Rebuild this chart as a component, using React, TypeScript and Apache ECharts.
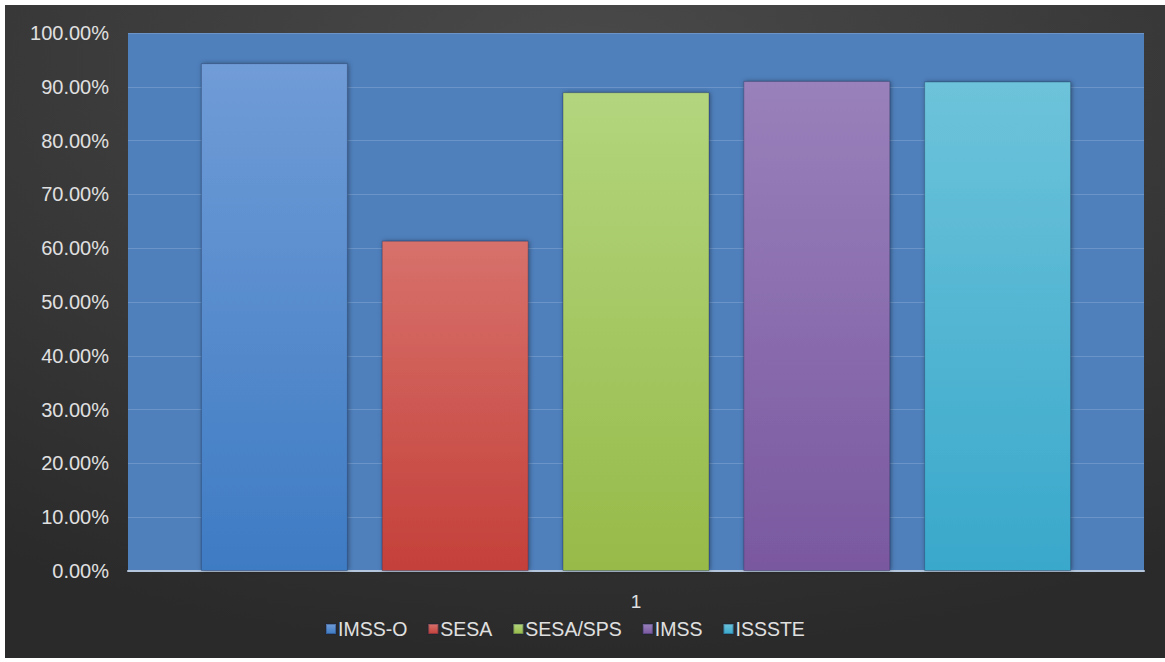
import React, { useEffect, useRef } from "react";
import * as echarts from "echarts";

const categories = ["1"];
const seriesNames = ["IMSS-O", "SESA", "SESA/SPS", "IMSS", "ISSSTE"];
const seriesValues = [94.4, 61.4, 89.0, 91.1, 91.0];
const topColors = ["#709cd7", "#d7716b", "#b3d57d", "#9981bb", "#6dc3da"];
const bottomColors = ["#3e7bc3", "#c4403a", "#97ba49", "#7a58a0", "#39a8cb"];
const yTicks = [0, 10, 20, 30, 40, 50, 60, 70, 80, 90, 100];

export default function App() {
  const ref = useRef<HTMLDivElement>(null);
  useEffect(() => {
    if (!ref.current) return;
    const chart = echarts.init(ref.current, undefined, { renderer: "svg" });
    const font = "'Liberation Sans', Arial, sans-serif";
    const series = seriesNames.map((name, i) => ({
      name,
      type: "bar" as const,
      data: [seriesValues[i]],
      barWidth: 147,
      barGap: "23%",
      itemStyle: {
        color: new echarts.graphic.LinearGradient(0, 0, 0, 1, [
          { offset: 0, color: topColors[i] },
          { offset: 1, color: bottomColors[i] },
        ]),
        borderColor: "rgba(20,30,60,0.3)",
        borderWidth: 1,
        shadowColor: "rgba(0,0,0,0.4)",
        shadowBlur: 5,
        shadowOffsetX: 1,
        shadowOffsetY: 0,
      },
    }));
    chart.setOption({
      animation: false,
      backgroundColor: "transparent",
      graphic: [
        {
          type: "rect",
          z: -10,
          silent: true,
          shape: { x: 5, y: 5, width: 1160, height: 653 },
          style: {
            fill: new echarts.graphic.RadialGradient(0.5, 0.1, 0.9, [
              { offset: 0, color: "#4a4a4a" },
              { offset: 1, color: "#2a2a2a" },
            ]),
          },
        },
      ],
      grid: {
        left: 128,
        right: 21,
        top: 33,
        bottom: 91,
        show: true,
        backgroundColor: "#4f80bc",
        borderWidth: 0,
      },
      legend: {
        data: seriesNames,
        left: 320,
        top: 614,
        icon: "rect",
        itemWidth: 10,
        itemHeight: 10,
        itemGap: 20,
        textStyle: { color: "#e0e0e0", fontSize: 19.5, fontFamily: font, padding: [0, 0, 0, -3] },
      },
      xAxis: {
        type: "category",
        data: categories,
        axisLine: { show: true, lineStyle: { color: "#b4c6dc", width: 2 } },
        axisTick: { show: false },
        axisLabel: { color: "#e0e0e0", fontSize: 19, fontFamily: font, margin: 21 },
      },
      yAxis: {
        type: "value",
        min: 0,
        max: 100,
        interval: 10,
        axisLine: { show: false },
        axisTick: { show: false },
        splitLine: { show: true, lineStyle: { color: "#6b95c9", width: 1 } },
        axisLabel: {
          color: "#e0e0e0",
          fontSize: 20,
          fontFamily: font,
          margin: 19,
          formatter: (v: number) => (yTicks.includes(v) ? `${v.toFixed(2)}%` : ""),
        },
      },
      series,
    });
    return () => chart.dispose();
  }, []);
  return (
    <div
      ref={ref}
      style={{ position: "absolute", left: 0, top: 0, width: 1165, height: 662, background: "#ffffff" }}
    />
  );
}
